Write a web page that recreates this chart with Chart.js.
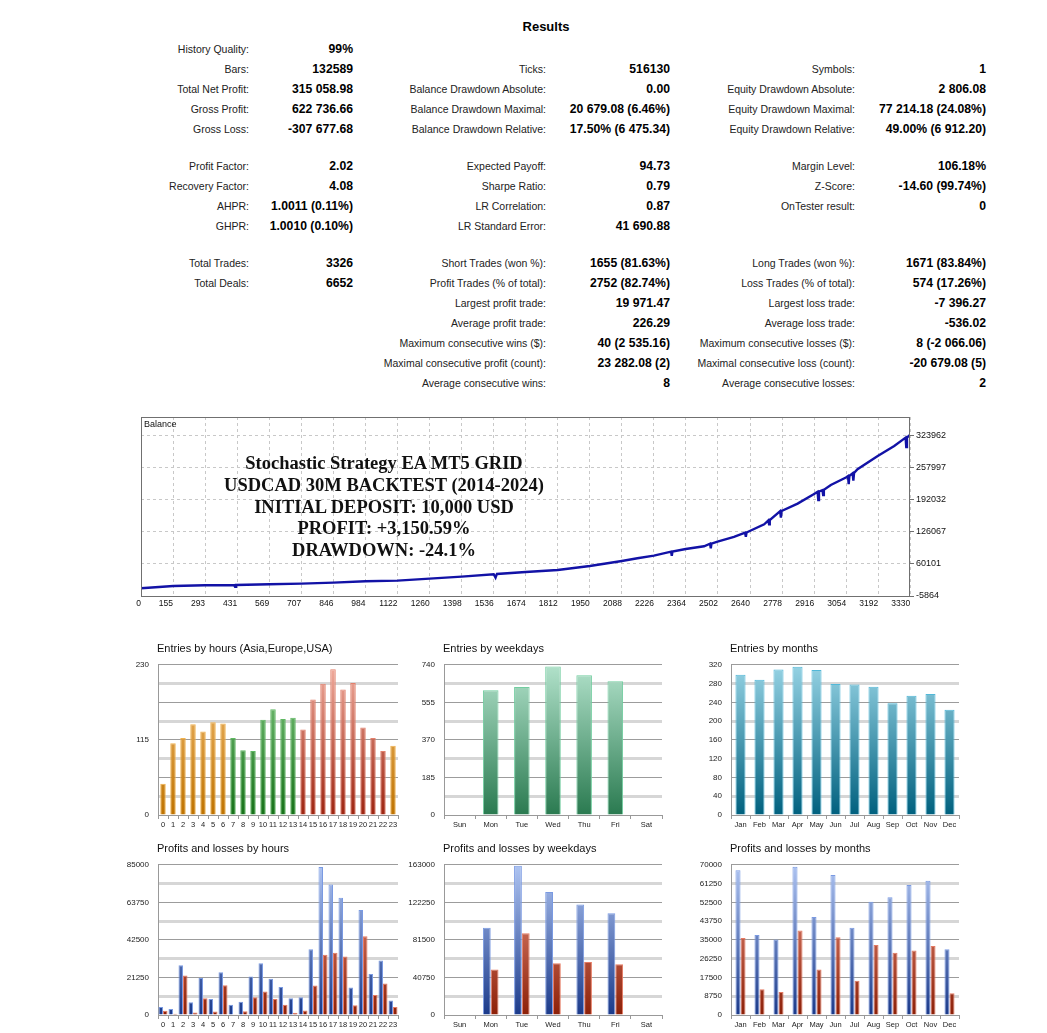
<!DOCTYPE html>
<html>
<head>
<meta charset="utf-8">
<script src="https://cdn.jsdelivr.net/npm/chart.js@4.4.0/dist/chart.umd.min.js"></script>
<style>
    body { margin: 0; background: #fff; width: 1047px; height: 1033px; position: relative; overflow: hidden; font-family: "Liberation Sans", Arial, sans-serif; }
    .abs { position: absolute; white-space: nowrap; line-height: 14px; }
    .lbl { font-size: 10.5px; color: #222; text-align: right; }
    .val { font-size: 12.2px; font-weight: bold; color: #000; text-align: right; }
    canvas { position: absolute; }
    .ctitle { position: absolute; font-size: 11px; color: #111; white-space: nowrap; line-height: 14px; }
    #results { position: absolute; left: 0; width: 1092px; top: 19px; text-align: center; font-weight: bold; font-size: 13px; }
    #overlay { position: absolute; left: 184px; width: 400px; top: 453px; text-align: center; font-family: "Liberation Serif", serif; font-weight: bold; font-size: 18.5px; line-height: 21.8px; color: #111; }
    #ballabel { position: absolute; left: 144px; top: 419px; font-size: 9px; color: #111; }
</style>
</head>
<body>
<div id="results">Results</div>
<div id="table"></div>

<canvas id="balance" width="840" height="208" style="left:131px;top:409px"></canvas>
<div id="ballabel">Balance</div>
<div id="overlay">Stochastic Strategy EA MT5 GRID<br>USDCAD 30M BACKTEST (2014-2024)<br>INITIAL DEPOSIT: 10,000 USD<br>PROFIT: +3,150.59%<br>DRAWDOWN: -24.1%</div>

<canvas id="hours" width="291" height="182" style="left:113px;top:651px"></canvas>
<canvas id="weekdays" width="269" height="182" style="left:399px;top:651px"></canvas>
<canvas id="months" width="279" height="182" style="left:686px;top:651px"></canvas>
<canvas id="plHours" width="291" height="182" style="left:113px;top:851px"></canvas>
<canvas id="plWeekdays" width="269" height="182" style="left:399px;top:851px"></canvas>
<canvas id="plMonths" width="279" height="182" style="left:686px;top:851px"></canvas>

<div class="ctitle" style="left:157px;top:641px">Entries by hours (Asia,Europe,USA)</div>
<div class="ctitle" style="left:443px;top:641px">Entries by weekdays</div>
<div class="ctitle" style="left:730px;top:641px">Entries by months</div>
<div class="ctitle" style="left:157px;top:841px">Profits and losses by hours</div>
<div class="ctitle" style="left:443px;top:841px">Profits and losses by weekdays</div>
<div class="ctitle" style="left:730px;top:841px">Profits and losses by months</div>

<script>
// report table rows: y, then label/value pairs for 3 columns
const rowY = [49, 69, 89, 109, 129, 166, 186, 206, 226, 263, 283, 303, 323, 343, 363, 383];
const rows = [
    ["History Quality:", "99%", "", "", "", ""],
    ["Bars:", "132589", "Ticks:", "516130", "Symbols:", "1"],
    ["Total Net Profit:", "315 058.98", "Balance Drawdown Absolute:", "0.00", "Equity Drawdown Absolute:", "2 806.08"],
    ["Gross Profit:", "622 736.66", "Balance Drawdown Maximal:", "20 679.08 (6.46%)", "Equity Drawdown Maximal:", "77 214.18 (24.08%)"],
    ["Gross Loss:", "-307 677.68", "Balance Drawdown Relative:", "17.50% (6 475.34)", "Equity Drawdown Relative:", "49.00% (6 912.20)"],
    ["Profit Factor:", "2.02", "Expected Payoff:", "94.73", "Margin Level:", "106.18%"],
    ["Recovery Factor:", "4.08", "Sharpe Ratio:", "0.79", "Z-Score:", "-14.60 (99.74%)"],
    ["AHPR:", "1.0011 (0.11%)", "LR Correlation:", "0.87", "OnTester result:", "0"],
    ["GHPR:", "1.0010 (0.10%)", "LR Standard Error:", "41 690.88", "", ""],
    ["Total Trades:", "3326", "Short Trades (won %):", "1655 (81.63%)", "Long Trades (won %):", "1671 (83.84%)"],
    ["Total Deals:", "6652", "Profit Trades (% of total):", "2752 (82.74%)", "Loss Trades (% of total):", "574 (17.26%)"],
    ["", "", "Largest profit trade:", "19 971.47", "Largest loss trade:", "-7 396.27"],
    ["", "", "Average profit trade:", "226.29", "Average loss trade:", "-536.02"],
    ["", "", "Maximum consecutive wins ($):", "40 (2 535.16)", "Maximum consecutive losses ($):", "8 (-2 066.06)"],
    ["", "", "Maximal consecutive profit (count):", "23 282.08 (2)", "Maximal consecutive loss (count):", "-20 679.08 (5)"],
    ["", "", "Average consecutive wins:", "8", "Average consecutive losses:", "2"]
];
const colRight = [249, 353, 546, 670, 855, 986];

// balance curve (trade number, balance)
const tradeNo = [17, 156, 293, 418, 422, 426, 570, 708, 846, 984, 1122, 1260, 1398, 1536, 1544, 1550,
    1674, 1812, 1950, 2088, 2155, 2226, 2300, 2303, 2306, 2363, 2442, 2468, 2471, 2474, 2500, 2571,
    2619, 2622, 2625, 2701, 2719, 2722, 2725, 2770, 2773, 2776, 2845, 2914, 2931, 2934, 2937, 2952,
    2955, 2958, 2988, 3053, 3062, 3065, 3068, 3082, 3085, 3088, 3103, 3190, 3261, 3310, 3313, 3316, 3330];
const balance = [10000, 14750, 16190, 16600, 13300, 16800, 18250, 19700, 21760, 24430, 25880, 30000, 34120, 39000, 32100, 39600,
    43600, 47720, 55970, 66280, 71850, 77400, 85600, 76700, 85800, 91020, 96600, 101800, 92500, 102200, 106270, 115760,
    124600, 115900, 125000, 141930, 149800, 141900, 150400, 169000, 155800, 169400, 184600, 203780, 209000, 192000, 209500, 212300,
    202200, 212800, 222960, 238200, 241000, 224400, 241600, 247000, 232000, 247500, 255300, 282700, 303340, 320500, 301300, 320800, 326500];
const xTickLabels = [0, 155, 293, 431, 569, 707, 846, 984, 1122, 1260, 1398, 1536, 1674, 1812, 1950, 2088, 2226, 2364, 2502, 2640, 2778, 2916, 3054, 3192, 3330];
const yTickLabels = [-5864, 60101, 126067, 192032, 257997, 323962];

// entries
const hourLabels = ["0","1","2","3","4","5","6","7","8","9","10","11","12","13","14","15","16","17","18","19","20","21","22","23"];
const hourSession = ["asia","asia","asia","asia","asia","asia","asia","europe","europe","europe","europe","europe","europe","europe",
    "usa","usa","usa","usa","usa","usa","usa","usa","usa","asia"];
const entriesByHour = [48, 110, 118, 139, 128, 142, 140, 118, 99, 98, 146, 162, 147, 149, 131, 177, 201, 223, 192, 202, 134, 118, 98, 106];
const dayLabels = ["Sun", "Mon", "Tue", "Wed", "Thu", "Fri", "Sat"];
const entriesByDay = [0, 615, 631, 732, 689, 659, 0];
const monthLabels = ["Jan","Feb","Mar","Apr","May","Jun","Jul","Aug","Sep","Oct","Nov","Dec"];
const entriesByMonth = [299, 288, 310, 316, 309, 279, 278, 273, 238, 254, 258, 224];

// profits / losses
const profitByHour = [4540, 3450, 28150, 7260, 20890, 9080, 24160, 5810, 7450, 21800, 29240, 20520, 15800, 9440, 9990, 37230, 83730, 73920, 66290, 15620, 59390, 23250, 30880, 8170];
const lossByHour = [2360, 730, 22340, 1450, 9440, 2000, 16890, 360, 2180, 9990, 13260, 9080, 5810, 1270, 2540, 16710, 34150, 35240, 33060, 5450, 44500, 11260, 17800, 4540];
const profitByDay = [0, 94730, 161950, 133390, 119810, 110410, 0];
const lossByDay = [0, 49460, 88810, 56070, 57470, 55030, 0];
const profitByMonth = [67460, 37240, 35150, 69100, 45620, 65210, 40680, 52800, 54890, 60580, 62520, 30660];
const lossByMonth = [35900, 11970, 10770, 39340, 21240, 36200, 16000, 32610, 29020, 30060, 32160, 10170];

// --- table ---
const table = document.getElementById("table");
rows.forEach((r, i) => {
    r.forEach((text, c) => {
        if (!text) return;
        const d = document.createElement("div");
        d.className = "abs " + (c % 2 ? "val" : "lbl");
        d.style.right = (1047 - colRight[c]) + "px";
        d.style.top = (rowY[i] - 7) + "px";
        d.textContent = text;
        table.appendChild(d);
    });
});

Chart.defaults.animation = false;
Chart.defaults.responsive = false;
Chart.defaults.plugins.legend.display = false;
Chart.defaults.plugins.tooltip.enabled = false;

const smallFont = { family: "'Liberation Sans', Arial", size: 8 };
const xFont = { family: "'Liberation Sans', Arial", size: 7.5 };

// --- balance chart ---
const frame = {
    id: "frame",
    afterDraw(chart) {
        const a = chart.chartArea, c = chart.ctx;
        c.save();
        c.strokeStyle = "#707070";
        c.lineWidth = 1;
        c.strokeRect(a.left + 0.5, a.top + 0.5, a.right - a.left - 1, a.bottom - a.top);
        c.restore();
    }
};

new Chart(document.getElementById("balance"), {
    type: "line",
    data: {
        datasets: [{
            data: tradeNo.map((t, i) => ({ x: t, y: balance[i] })),
            borderColor: "#1212a6",
            borderWidth: 2.4,
            pointRadius: 0,
            tension: 0
        }]
    },
    options: {
        layout: { padding: { left: 10, top: 8, right: 0, bottom: 0 } },
        scales: {
            x: {
                type: "linear",
                min: 17,
                max: 3329,
                afterBuildTicks: s => { s.ticks = xTickLabels.map(v => ({ value: Math.max(v, 17) })); },
                afterFit: s => { s.height = 21; },
                ticks: {
                    callback: (v, i) => xTickLabels[i],
                    align: "end",
                    autoSkip: false,
                    maxRotation: 0,
                    padding: 3,
                    color: "#111",
                    font: { family: "'Liberation Sans', Arial", size: 8.5 }
                },
                grid: { color: "#c8c8c8", drawTicks: false },
                border: { display: false, dash: [3, 3] }
            },
            y: {
                position: "right",
                min: -5864,
                max: 363000,
                afterBuildTicks: s => { s.ticks = yTickLabels.map(v => ({ value: v })); },
                afterFit: s => { s.width = 61; },
                ticks: {
                    callback: (v, i) => yTickLabels[i],
                    padding: 2,
                    color: "#111",
                    font: { family: "'Liberation Sans', Arial", size: 9 }
                },
                grid: { color: "#c8c8c8", tickLength: 4, tickColor: "#707070", tickBorderDash: [] },
                border: { display: false, dash: [3, 3] }
            }
        }
    },
    plugins: [frame]
});

// --- bar charts ---
const palette = {
    asia: ["#f6c27a", "#bf7300", "#f1b24e"],
    europe: ["#86cc86", "#157218", "#5fb862"],
    usa: ["#f1ad9e", "#9e2410", "#e3806c"],
    day: ["#b2e2cb", "#2a7a50", "#72cda0"],
    month: ["#96d3e4", "#00607e", "#52b8d8"],
    profit: ["#aec4f2", "#1b3a8a", "#7a9ae2"],
    loss: ["#f29a88", "#8c2008", "#e67a62"]
};

function gradient(chart, name) {
    const area = chart.chartArea;
    const p = palette[name];
    if (!area) return p[1];
    const g = chart.ctx.createLinearGradient(0, area.bottom, 0, area.top);
    g.addColorStop(0, p[1]);
    g.addColorStop(1, p[0]);
    return g;
}

function barChart(id, labels, datasets, yMax, labelEvery, catPct, barPct) {
    new Chart(document.getElementById(id), {
        type: "bar",
        data: { labels: labels, datasets: datasets },
        options: {
            layout: { padding: { top: 8, right: 6, left: 0, bottom: 0 } },
            datasets: { bar: { categoryPercentage: catPct, barPercentage: barPct, borderWidth: 1 } },
            scales: {
                x: {
                    afterFit: s => { s.height = 18; },
                    ticks: { color: "#222", font: xFont, padding: 1, maxRotation: 0, autoSkip: false },
                    grid: { offset: true, drawOnChartArea: false, tickLength: 4, color: "#999" },
                    border: { color: "#999" }
                },
                y: {
                    min: 0,
                    max: yMax,
                    afterBuildTicks: s => {
                        s.ticks = [0, 1, 2, 3, 4, 5, 6, 7, 8].map(i => ({ value: yMax * i / 8 }));
                    },
                    afterFit: s => { s.width = 45; },
                    ticks: {
                        callback: (v, i) => (i % labelEvery === 0 ? String(Math.round(v)) : ""),
                        color: "#222",
                        font: smallFont,
                        padding: 9
                    },
                    grid: {
                        drawTicks: false,
                        color: c => (c.index % 2 ? "#d6d6d6" : "#9c9c9c"),
                        lineWidth: c => (c.index % 2 ? 3 : 1)
                    },
                    border: { color: "#999" }
                }
            }
        }
    });
}

barChart("hours", hourLabels, [{
    data: entriesByHour,
    backgroundColor: c => gradient(c.chart, hourSession[c.dataIndex]),
    borderColor: c => palette[hourSession[c.dataIndex]][2]
}], 230, 4, 1, 0.55);

barChart("weekdays", dayLabels, [{
    data: entriesByDay,
    backgroundColor: c => gradient(c.chart, "day"),
    borderColor: palette.day[2]
}], 740, 2, 1, 0.5);

barChart("months", monthLabels, [{
    data: entriesByMonth,
    backgroundColor: c => gradient(c.chart, "month"),
    borderColor: palette.month[2]
}], 320, 1, 1, 0.53);

function plSets(profit, loss) {
    return [
        { data: profit, backgroundColor: c => gradient(c.chart, "profit"), borderColor: palette.profit[2] },
        { data: loss, backgroundColor: c => gradient(c.chart, "loss"), borderColor: palette.loss[2] }
    ];
}

barChart("plHours", hourLabels, plSets(profitByHour, lossByHour), 85000, 2, 0.9, 1);
barChart("plWeekdays", dayLabels, plSets(profitByDay, lossByDay), 163000, 2, 0.5, 1);
barChart("plMonths", monthLabels, plSets(profitByMonth, lossByMonth), 70000, 1, 0.53, 1);
</script>
</body>
</html>
